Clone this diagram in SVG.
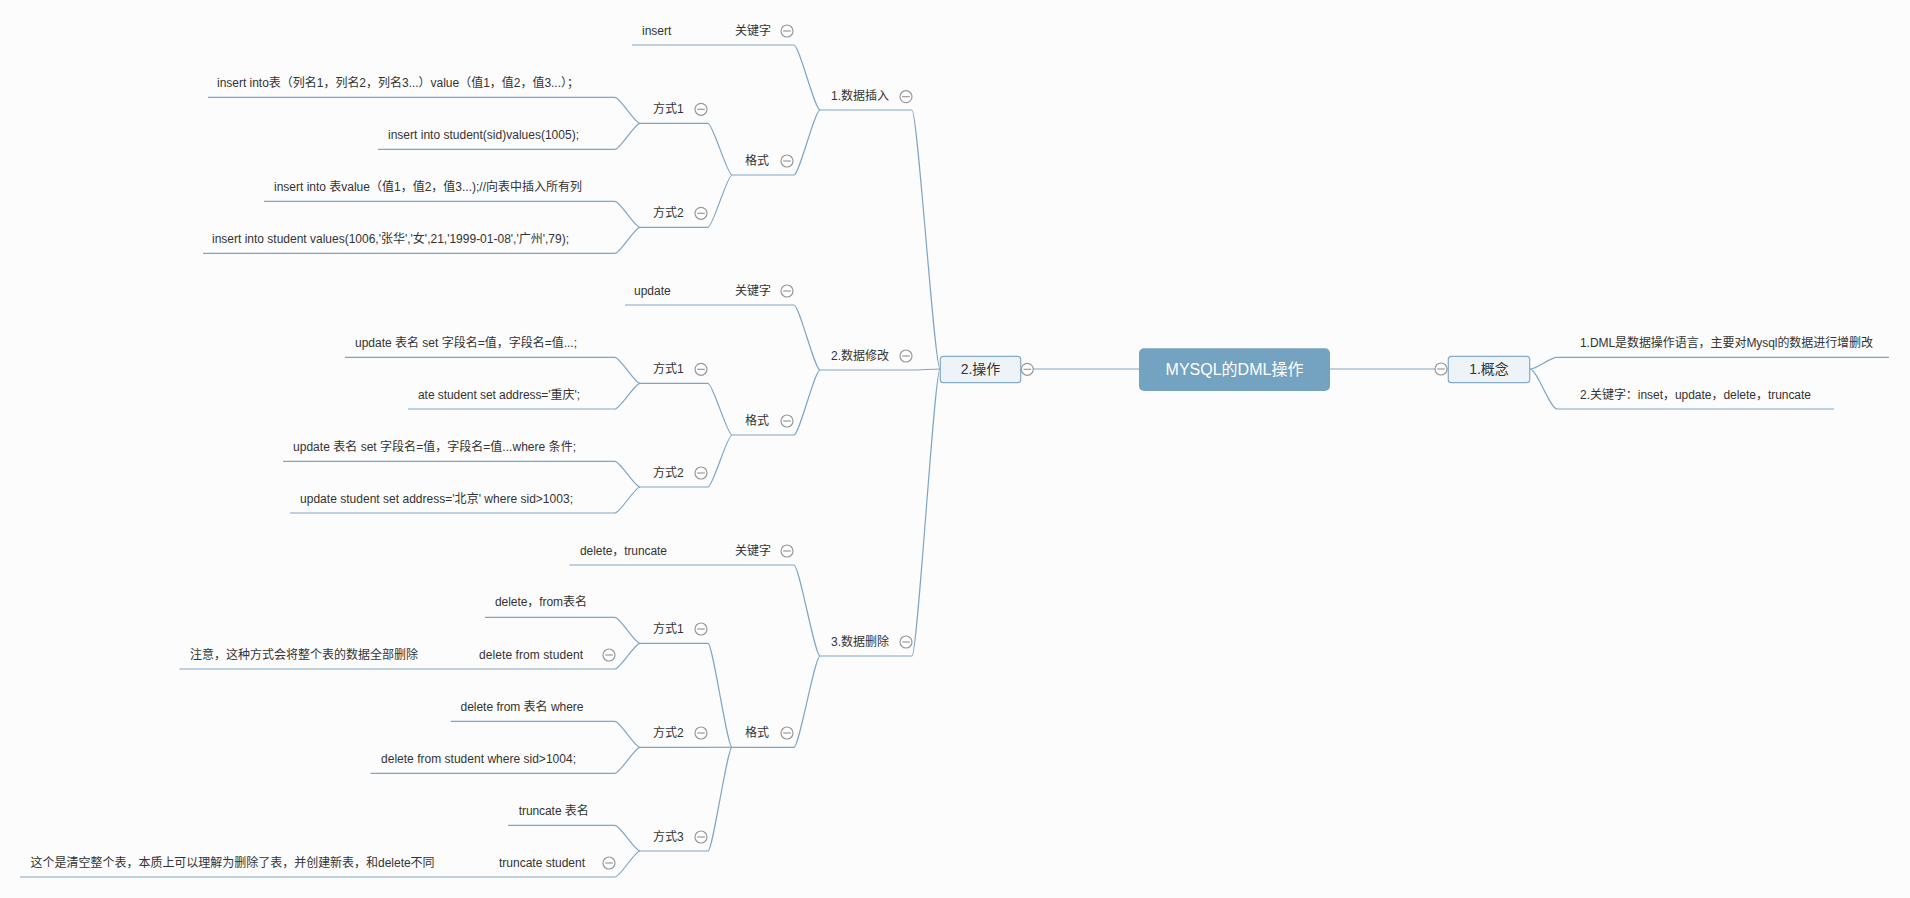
<svg xmlns="http://www.w3.org/2000/svg" xmlns:xlink="http://www.w3.org/1999/xlink" width="1910" height="898" viewBox="0 0 1910 898">
<style>
.t{font-family:"Liberation Sans","Noto Sans CJK SC",sans-serif;font-size:12px;fill:#333}
.tb{font-family:"Liberation Sans","Noto Sans CJK SC",sans-serif;font-size:14px;fill:#333;text-anchor:middle}
.tr{font-family:"Liberation Sans","Noto Sans CJK SC",sans-serif;font-size:16px;fill:#fff;text-anchor:middle}
.ul{stroke:#7ea5c5;stroke-width:1.2;fill:none}
.cn{stroke:#7ea5c5;stroke-width:1.2;fill:none}
.box{fill:#eef3f7;stroke:#84abc9;stroke-width:1.2}
</style>
<defs>
<g id="minus"><circle r="6" fill="#fff" stroke="#999" stroke-width="1.2"/><line x1="-3.8" y1="0" x2="3.8" y2="0" stroke="#999" stroke-width="1.2"/></g>
</defs>
<rect width="1910" height="898" fill="#fcfcfc"/>

<g id="connectors">
<line class="cn" x1="1021" y1="369" x2="1139" y2="369"/>
<line class="cn" x1="1330" y1="369" x2="1448" y2="369"/>
<path class="cn" d="M1530 369 C1537 369 1550 357.3 1557 357.3"/>
<path class="cn" d="M1530 369 C1537 369 1550 409 1557 409"/>
<path class="cn" d="M940 369 C934.4 369 917.6 110 912 110"/>
<path class="cn" d="M940 369 C934.4 369 917.6 370 912 370"/>
<path class="cn" d="M940 369 C934.4 369 917.6 656 912 656"/>
<path class="cn" d="M820 110 C814.8 110 799.2 45 794 45"/>
<path class="cn" d="M820 110 C814.8 110 799.2 175 794 175"/>
<path class="cn" d="M732 175 C727.2 175 712.8 123.3 708 123.3"/>
<path class="cn" d="M732 175 C727.2 175 712.8 227.3 708 227.3"/>
<path class="cn" d="M640 123.3 C635 123.3 620 97.3 615 97.3"/>
<path class="cn" d="M640 123.3 C635 123.3 620 149.3 615 149.3"/>
<path class="cn" d="M640 227.3 C635 227.3 620 201.3 615 201.3"/>
<path class="cn" d="M640 227.3 C635 227.3 620 253.3 615 253.3"/>
<path class="cn" d="M820 370 C814.8 370 799.2 305 794 305"/>
<path class="cn" d="M820 370 C814.8 370 799.2 435 794 435"/>
<path class="cn" d="M732 435 C727.2 435 712.8 383.3 708 383.3"/>
<path class="cn" d="M732 435 C727.2 435 712.8 487 708 487"/>
<path class="cn" d="M640 383.3 C635 383.3 620 357.3 615 357.3"/>
<path class="cn" d="M640 383.3 C635 383.3 620 409 615 409"/>
<path class="cn" d="M640 487 C635 487 620 461.3 615 461.3"/>
<path class="cn" d="M640 487 C635 487 620 513 615 513"/>
<path class="cn" d="M820 656 C814.8 656 799.2 565 794 565"/>
<path class="cn" d="M820 656 C814.8 656 799.2 747.3 794 747.3"/>
<path class="cn" d="M732 747.3 C727.2 747.3 712.8 643.3 708 643.3"/>
<path class="cn" d="M732 747.3 L708 747.3"/>
<path class="cn" d="M732 747.3 C727.2 747.3 712.8 851 708 851"/>
<path class="cn" d="M640 643.3 C635 643.3 620 617.3 615 617.3"/>
<path class="cn" d="M640 643.3 C635 643.3 620 669 615 669"/>
<path class="cn" d="M640 747.3 C635 747.3 620 721.3 615 721.3"/>
<path class="cn" d="M640 747.3 C635 747.3 620 773.3 615 773.3"/>
<path class="cn" d="M640 851 C635 851 620 825.3 615 825.3"/>
<path class="cn" d="M640 851 C635 851 620 877 615 877"/>
</g>

<g id="root"><rect x="1139" y="348.3" width="191" height="42.7" rx="5" fill="#74a2c1"/><text class="tr" x="1234.5" y="374.5">MYSQL的DML操作</text></g>

<g id="concept"><rect class="box" x="1448.3" y="356.3" width="81.4" height="26.4" rx="3"/><text class="tb" x="1489" y="374">1.概念</text><use xlink:href="#minus" x="1441" y="369"/></g>
<g id="concept-1"><line class="ul" x1="1557" y1="357.3" x2="1889" y2="357.3"/><text class="t" x="1580" y="347.3" textLength="293">1.DML是数据操作语言，主要对Mysql的数据进行增删改</text></g>
<g id="concept-2"><line class="ul" x1="1557" y1="409" x2="1834" y2="409"/><text class="t" x="1580" y="399" textLength="231">2.关键字：inset，update，delete，truncate</text></g>

<g id="ops"><rect class="box" x="940.3" y="356.3" width="80.4" height="26.4" rx="3"/><text class="tb" x="980.5" y="374">2.操作</text><use xlink:href="#minus" x="1027.3" y="369.3"/></g>

<g id="insert"><line class="ul" x1="820" y1="110" x2="912" y2="110"/><text class="t" x="831" y="100">1.数据插入</text><use xlink:href="#minus" x="906" y="96.7"/></g>
<g id="insert-kw"><line class="ul" x1="725" y1="45" x2="794" y2="45"/><text class="t" x="735" y="35">关键字</text><use xlink:href="#minus" x="787" y="31"/></g>
<g id="insert-kw-v"><line class="ul" x1="632" y1="45" x2="725" y2="45"/><text class="t" x="642" y="35">insert</text></g>
<g id="insert-fmt"><line class="ul" x1="732" y1="175" x2="794" y2="175"/><text class="t" x="745" y="165">格式</text><use xlink:href="#minus" x="787" y="161"/></g>
<g id="insert-m1"><line class="ul" x1="640" y1="123.3" x2="708" y2="123.3"/><text class="t" x="653" y="113.3">方式1</text><use xlink:href="#minus" x="701" y="109.3"/></g>
<g id="insert-m1-a"><line class="ul" x1="208" y1="97.3" x2="615" y2="97.3"/><text class="t" x="217" y="87.3" textLength="362">insert into表（列名1，列名2，列名3...）value（值1，值2，值3...）；</text></g>
<g id="insert-m1-b"><line class="ul" x1="378" y1="149.3" x2="615" y2="149.3"/><text class="t" x="388" y="139.3" textLength="191">insert into student(sid)values(1005);</text></g>
<g id="insert-m2"><line class="ul" x1="640" y1="227.3" x2="708" y2="227.3"/><text class="t" x="653" y="217.3">方式2</text><use xlink:href="#minus" x="701" y="213.3"/></g>
<g id="insert-m2-a"><line class="ul" x1="264" y1="201.3" x2="615" y2="201.3"/><text class="t" x="274" y="191.3" textLength="308">insert into 表value（值1，值2，值3...);//向表中插入所有列</text></g>
<g id="insert-m2-b"><line class="ul" x1="203" y1="253.3" x2="615" y2="253.3"/><text class="t" x="212" y="243.3" textLength="357">insert into student values(1006,'张华','女',21,'1999-01-08','广州',79);</text></g>

<g id="update"><line class="ul" x1="820" y1="370" x2="912" y2="370"/><text class="t" x="831" y="360">2.数据修改</text><use xlink:href="#minus" x="906" y="356"/></g>
<g id="update-kw"><line class="ul" x1="725" y1="305" x2="794" y2="305"/><text class="t" x="735" y="295">关键字</text><use xlink:href="#minus" x="787" y="291"/></g>
<g id="update-kw-v"><line class="ul" x1="625" y1="305" x2="725" y2="305"/><text class="t" x="634" y="295">update</text></g>
<g id="update-fmt"><line class="ul" x1="732" y1="435" x2="794" y2="435"/><text class="t" x="745" y="425">格式</text><use xlink:href="#minus" x="787" y="421"/></g>
<g id="update-m1"><line class="ul" x1="640" y1="383.3" x2="708" y2="383.3"/><text class="t" x="653" y="373.3">方式1</text><use xlink:href="#minus" x="701" y="369.3"/></g>
<g id="update-m1-a"><line class="ul" x1="345" y1="357.3" x2="615" y2="357.3"/><text class="t" x="355" y="347" textLength="222">update 表名 set 字段名=值，字段名=值...;</text></g>
<g id="update-m1-b"><line class="ul" x1="408" y1="409" x2="615" y2="409"/><text class="t" x="418" y="399" textLength="162">ate student set address='重庆';</text></g>
<g id="update-m2"><line class="ul" x1="640" y1="487" x2="708" y2="487"/><text class="t" x="653" y="477">方式2</text><use xlink:href="#minus" x="701" y="473"/></g>
<g id="update-m2-a"><line class="ul" x1="283" y1="461.3" x2="615" y2="461.3"/><text class="t" x="293" y="451" textLength="283">update 表名 set 字段名=值，字段名=值...where 条件;</text></g>
<g id="update-m2-b"><line class="ul" x1="290" y1="513" x2="615" y2="513"/><text class="t" x="300" y="503" textLength="273">update student set address='北京' where sid&gt;1003;</text></g>

<g id="delete"><line class="ul" x1="820" y1="656" x2="912" y2="656"/><text class="t" x="831" y="646">3.数据删除</text><use xlink:href="#minus" x="906" y="642"/></g>
<g id="delete-kw"><line class="ul" x1="725" y1="565" x2="794" y2="565"/><text class="t" x="735" y="555">关键字</text><use xlink:href="#minus" x="787" y="551"/></g>
<g id="delete-kw-v"><line class="ul" x1="569.5" y1="565" x2="725" y2="565"/><text class="t" x="580" y="555" textLength="87">delete，truncate</text></g>
<g id="delete-fmt"><line class="ul" x1="732" y1="747.3" x2="794" y2="747.3"/><text class="t" x="745" y="737">格式</text><use xlink:href="#minus" x="787" y="733"/></g>
<g id="delete-m1"><line class="ul" x1="640" y1="643.3" x2="708" y2="643.3"/><text class="t" x="653" y="633">方式1</text><use xlink:href="#minus" x="701" y="629"/></g>
<g id="delete-m1-a"><line class="ul" x1="485" y1="617.3" x2="615" y2="617.3"/><text class="t" x="495" y="606.3" textLength="92">delete，from表名</text></g>
<g id="delete-m1-b"><line class="ul" x1="469" y1="669" x2="615" y2="669"/><text class="t" x="479" y="659" textLength="104">delete from student</text><use xlink:href="#minus" x="609" y="655"/></g>
<g id="delete-m1-b-note"><line class="ul" x1="179.4" y1="669" x2="469" y2="669"/><text class="t" x="190" y="659">注意，这种方式会将整个表的数据全部删除</text></g>
<g id="delete-m2"><line class="ul" x1="640" y1="747.3" x2="708" y2="747.3"/><text class="t" x="653" y="737">方式2</text><use xlink:href="#minus" x="701" y="733"/></g>
<g id="delete-m2-a"><line class="ul" x1="450.7" y1="721.3" x2="615" y2="721.3"/><text class="t" x="460.5" y="710.7" textLength="123">delete from 表名 where</text></g>
<g id="delete-m2-b"><line class="ul" x1="370.5" y1="773.3" x2="615" y2="773.3"/><text class="t" x="381" y="762.7" textLength="195">delete from student where sid&gt;1004;</text></g>
<g id="delete-m3"><line class="ul" x1="640" y1="851" x2="708" y2="851"/><text class="t" x="653" y="841">方式3</text><use xlink:href="#minus" x="701" y="837"/></g>
<g id="delete-m3-a"><line class="ul" x1="508" y1="825.3" x2="615" y2="825.3"/><text class="t" x="518.7" y="814.7" textLength="70">truncate 表名</text></g>
<g id="delete-m3-b"><line class="ul" x1="489" y1="877" x2="615" y2="877"/><text class="t" x="499" y="866.7" textLength="86">truncate student</text><use xlink:href="#minus" x="609" y="863"/></g>
<g id="delete-m3-b-note"><line class="ul" x1="20" y1="877" x2="489" y2="877"/><text class="t" x="30.6" y="866.7" textLength="404">这个是清空整个表，本质上可以理解为删除了表，并创建新表，和delete不同</text></g>
</svg>
